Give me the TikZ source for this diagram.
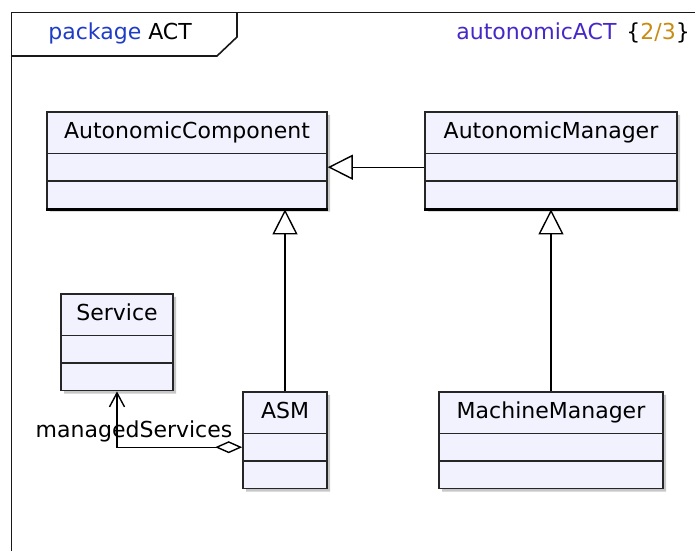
\documentclass[tikz,border=0pt]{standalone}
\usepackage{fontspec}
\setmainfont{DejaVu Sans}
\usetikzlibrary{shapes.multipart,arrows.meta,shadows,calc}

\definecolor{classfill}{RGB}{242,242,255}
\definecolor{pkgblue}{RGB}{30,60,200}
\definecolor{diagpurple}{RGB}{70,40,200}
\definecolor{pagegold}{RGB}{200,140,20}

\newcommand{\umlname}[1]{\rule[-7pt]{0pt}{20pt}#1}

\tikzset{
  umlclass/.style={rectangle split, rectangle split parts=3, anchor=north,
    draw=black!85, line width=0.8pt, fill=classfill,
    inner xsep=2pt, inner ysep=0pt,
    rectangle split empty part height=13pt, rectangle split empty part depth=0pt,
    drop shadow={shadow xshift=1.5pt, shadow yshift=-1.5pt, fill=black!22, opacity=1}},
  frameline/.style={line width=0.8pt, draw=black!90},
  inherit/.style={-{Triangle[open,length=12.5pt,width=12.5pt]}, line width=0.7pt},
  aggr/.style={{Diamond[open,length=13.5pt,width=6pt]}-{Straight Barb[length=7pt,width=7.5pt]}, line width=0.7pt}
}

\begin{document}
\begin{tikzpicture}[x=0.5pt, y=-0.5pt, font=\fontsize{11}{13}\selectfont]
        \useasboundingbox (0,0) rectangle (695,551);

        % Çerçeveyi çiz
        \draw[frameline] (11.5,551) -- (11.5,12.5) -- (695,12.5);
        \draw[frameline] (11.5,56) -- (217,56) -- (237,37) -- (237,12.5);
        \node[anchor=base west, inner sep=0pt] (pkg) at (48,40) {\textcolor{pkgblue}{package} ACT};
        \node[anchor=base west, inner sep=0pt] (diag) at (456,40) {\textcolor{diagpurple}{autonomicACT}\hspace{5pt}\{\textcolor{pagegold}{2/3}\}};

        % Sınıfları çiz
        \node[umlclass, minimum width=140pt] (comp) at (187,111) {\umlname{AutonomicComponent}};
        \node[umlclass, minimum width=126pt] (mgr) at (551,111) {\umlname{AutonomicManager}};
        \node[umlclass, minimum width=56pt] (svc) at (117,293) {\umlname{Service}};
        \node[umlclass, minimum width=42pt] (asm) at (285,391) {\umlname{ASM}};
        \node[umlclass, minimum width=112pt] (mm) at (551,391) {\umlname{MachineManager}};
        \draw[line width=1.3pt] (comp.south west) -- (comp.south east);
        \draw[line width=1.3pt] (mgr.south west) -- (mgr.south east);

        % Kalıtım oklarını çiz
        \draw[inherit] ($(mgr.text split west)!.5!(mgr.two split west)$) -- ($(comp.text split east)!.5!(comp.two split east)$);
        \draw[inherit] (asm.north) -- (asm.north |- comp.south);
        \draw[inherit] (mm.north) -- (mgr.south);

        % Birleşme
        \draw[aggr] ($(asm.text split west)!.5!(asm.two split west)$) -| (svc.south);
        \node[anchor=base, inner sep=0pt] (role) at (134,437) {managedServices};
    \end{tikzpicture}
\end{document}
